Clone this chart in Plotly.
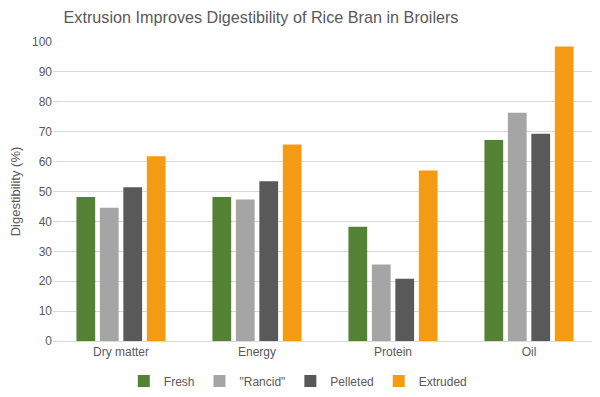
import plotly.graph_objects as go

categories = ["Dry matter", "Energy", "Protein", "Oil"]
fresh = [48.2, 48.2, 38.2, 67.2]
rancid = [44.6, 47.3, 25.6, 76.3]
pelleted = [51.4, 53.4, 20.8, 69.3]
extruded = [61.8, 65.7, 57.0, 98.5]
series_names = ["Fresh", "\"Rancid\"", "Pelleted", "Extruded"]
colors = ["#548235", "#A5A5A5", "#595959", "#F59B13"]
y_ticks = list(range(0, 101, 10))

fig = go.Figure()
for name, vals, c in zip(series_names, [fresh, rancid, pelleted, extruded], colors):
    fig.add_trace(go.Bar(x=categories, y=vals, name=name, marker=dict(color=c, line=dict(width=0))))

# page body has an 8px default margin, so the figure is 8px smaller and offset
W, H = 592, 389
fig.update_layout(
    width=W, height=H,
    margin=dict(l=45, r=3, t=34, b=56, autoexpand=False),
    paper_bgcolor="white", plot_bgcolor="white",
    font=dict(family="Liberation Sans, Arial, sans-serif", color="#595959", size=12),
    title=dict(text="Extrusion Improves Digestibility of Rice Bran in Broilers",
               x=253 / W, xanchor="center", y=1 - 9 / H, yanchor="middle",
               font=dict(size=16.2, color="#595959")),
    barmode="group", bargap=0.31, bargroupgap=0.2,
    legend=dict(orientation="h", x=0.45, xanchor="center", y=-0.134, yanchor="middle",
                font=dict(size=12, color="#595959"), itemwidth=30, traceorder="normal"),
    xaxis=dict(showgrid=False, showline=True, linecolor="#D9D9D9", ticks="", automargin=False,
               tickfont=dict(size=12, color="#595959")),
    yaxis=dict(range=[0, 100], tickvals=y_ticks, showgrid=True, gridcolor="#D9D9D9",
               zeroline=False, ticks="", automargin=False, tickfont=dict(size=12, color="#595959"),
               title=dict(text="Digestibility (%)", font=dict(size=13, color="#595959"), standoff=8)),
)
fig.write_html("out.html")
